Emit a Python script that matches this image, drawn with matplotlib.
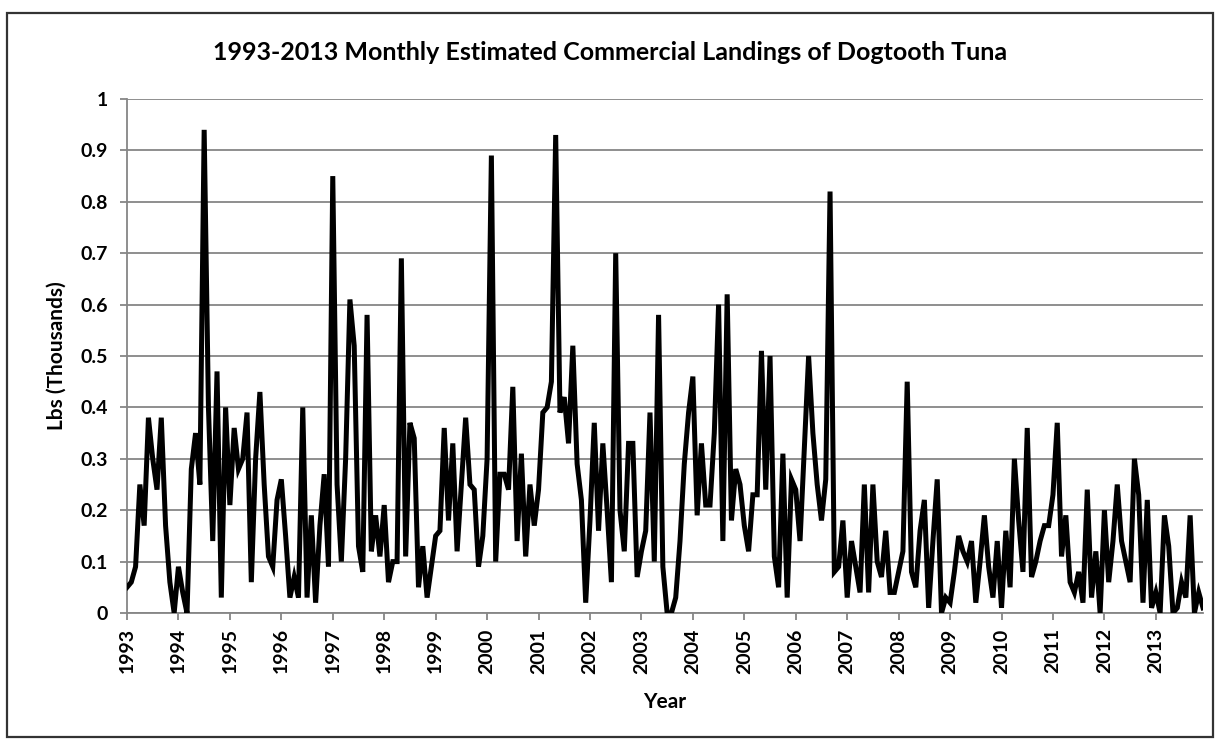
import numpy as np
import matplotlib
matplotlib.use("Agg")
from matplotlib import pyplot as plt
from matplotlib.patches import Rectangle

plt.rcParams['font.family'] = ['Lato', 'DejaVu Sans']

years = list(range(1993, 2014))

# monthly landings, thousands of lbs, Jan..Dec for each year
y1993 = [0.05, 0.06, 0.09, 0.25, 0.17, 0.38, 0.30, 0.24, 0.38, 0.17, 0.06, 0.00]
y1994 = [0.09, 0.04, 0.00, 0.28, 0.35, 0.25, 0.94, 0.40, 0.14, 0.47, 0.03, 0.40]
y1995 = [0.21, 0.36, 0.28, 0.30, 0.39, 0.06, 0.30, 0.43, 0.25, 0.11, 0.09, 0.22]
y1996 = [0.26, 0.15, 0.03, 0.07, 0.03, 0.40, 0.03, 0.19, 0.02, 0.17, 0.27, 0.09]
y1997 = [0.85, 0.25, 0.10, 0.30, 0.61, 0.52, 0.13, 0.08, 0.58, 0.12, 0.19, 0.11]
y1998 = [0.21, 0.06, 0.10, 0.10, 0.69, 0.11, 0.37, 0.34, 0.05, 0.13, 0.03, 0.09]
y1999 = [0.15, 0.16, 0.36, 0.18, 0.33, 0.12, 0.25, 0.38, 0.25, 0.24, 0.09, 0.15]
y2000 = [0.30, 0.89, 0.10, 0.27, 0.27, 0.24, 0.44, 0.14, 0.31, 0.11, 0.25, 0.17]
y2001 = [0.24, 0.39, 0.40, 0.45, 0.93, 0.39, 0.42, 0.33, 0.52, 0.29, 0.22, 0.02]
y2002 = [0.18, 0.37, 0.16, 0.33, 0.20, 0.06, 0.70, 0.20, 0.12, 0.33, 0.33, 0.07]
y2003 = [0.12, 0.16, 0.39, 0.10, 0.58, 0.09, 0.00, 0.00, 0.03, 0.14, 0.29, 0.39]
y2004 = [0.46, 0.19, 0.33, 0.21, 0.21, 0.35, 0.60, 0.14, 0.62, 0.18, 0.28, 0.25]
y2005 = [0.17, 0.12, 0.23, 0.23, 0.51, 0.24, 0.50, 0.11, 0.05, 0.31, 0.03, 0.26]
y2006 = [0.24, 0.14, 0.32, 0.50, 0.35, 0.25, 0.18, 0.26, 0.82, 0.08, 0.09, 0.18]
y2007 = [0.03, 0.14, 0.09, 0.04, 0.25, 0.04, 0.25, 0.10, 0.07, 0.16, 0.04, 0.04]
y2008 = [0.08, 0.12, 0.45, 0.08, 0.05, 0.16, 0.22, 0.01, 0.14, 0.26, 0.00, 0.03]
y2009 = [0.02, 0.08, 0.15, 0.12, 0.10, 0.14, 0.02, 0.10, 0.19, 0.09, 0.03, 0.14]
y2010 = [0.01, 0.16, 0.05, 0.30, 0.18, 0.08, 0.36, 0.07, 0.10, 0.14, 0.17, 0.17]
y2011 = [0.23, 0.37, 0.11, 0.19, 0.06, 0.04, 0.08, 0.02, 0.24, 0.03, 0.12, 0.00]
y2012 = [0.20, 0.06, 0.14, 0.25, 0.14, 0.10, 0.06, 0.30, 0.23, 0.02, 0.22, 0.01]
y2013 = [0.04, 0.00, 0.19, 0.13, 0.00, 0.01, 0.06, 0.03, 0.19, 0.00, 0.04, 0.01]

landings = (y1993 + y1994 + y1995 + y1996 + y1997 + y1998 + y1999 + y2000 +
            y2001 + y2002 + y2003 + y2004 + y2005 + y2006 + y2007 + y2008 +
            y2009 + y2010 + y2011 + y2012 + y2013)

W, H = 1220, 740
fig = plt.figure(figsize=(W / 100, H / 100), dpi=100)
ax = fig.add_axes([127 / W, 1 - 613 / H, (1203 - 127) / W, (613 - 99) / H])

grid_c = '#868686'
x = np.arange(len(landings))
ax.plot(x, landings, color='black', lw=3.6, solid_joinstyle='miter', zorder=3)

ax.set_xlim(0, len(landings) - 1)
ax.set_ylim(0, 1)
ax.set_yticks(np.arange(0, 1.01, 0.1))
ax.set_yticklabels(['0'] + ['%.1f' % v for v in np.arange(0.1, 0.95, 0.1)] + ['1'])
ax.set_xticks(np.arange(0, len(landings), 12))
ax.set_xticklabels([str(y) for y in years], rotation=90)
ax.yaxis.grid(True, color=grid_c, lw=1.3)
ax.set_axisbelow(True)

for s in ['top', 'right']:
    ax.spines[s].set_visible(False)
for s in ['left', 'bottom']:
    ax.spines[s].set_color(grid_c)
    ax.spines[s].set_linewidth(1.3)

ax.tick_params(axis='both', colors=grid_c, width=1.3, length=5, labelcolor='black',
               labelsize=14)
ax.tick_params(axis='x', pad=6)
ax.tick_params(axis='y', pad=9)
for lab in ax.get_xticklabels() + ax.get_yticklabels():
    lab.set_fontweight('bold')

fig.text(610 / W, 1 - 52 / H, '1993-2013 Monthly Estimated Commercial Landings of Dogtooth Tuna',
         ha='center', va='center', fontsize=18, fontweight='bold')
fig.text(665 / W, 1 - 702 / H, 'Year', ha='center', va='center', fontsize=15, fontweight='bold')
fig.text(57 / W, 1 - 356 / H, 'Lbs (Thousands)', ha='center', va='center', rotation=90,
         fontsize=15, fontweight='bold')

fig.patches.append(Rectangle((7 / W, 1 - 737 / H), (1213 - 7) / W, (737 - 13) / H,
                             transform=fig.transFigure, fill=False, edgecolor='#333333',
                             lw=1.6))

fig.savefig('out.png', dpi=100)
